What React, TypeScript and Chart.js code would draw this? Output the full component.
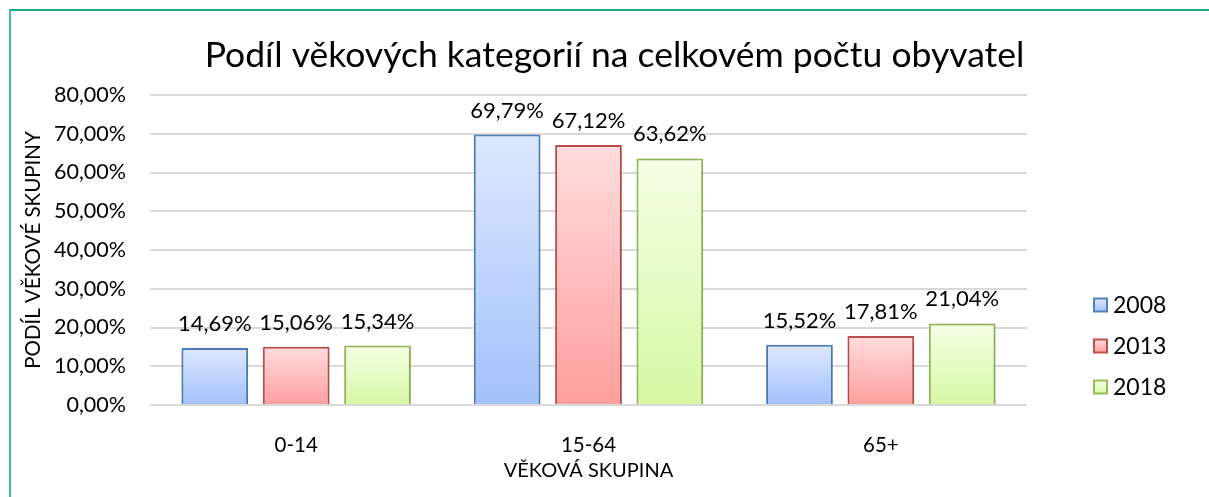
import React, { useEffect, useRef } from "react";
import { Chart, registerables } from "chart.js";

Chart.register(...registerables);

const chartTitle = "Podíl věkových kategorií na celkovém počtu obyvatel";
const categories = ["0-14", "15-64", "65+"];
const seriesNames = ["2008", "2013", "2018"];
const values2008 = [14.69, 69.79, 15.52];
const values2013 = [15.06, 67.12, 17.81];
const values2018 = [15.34, 63.62, 21.04];
const yTicks = [0, 10, 20, 30, 40, 50, 60, 70, 80];

const FONT = "Lato, 'Open Sans', sans-serif";

const palettes = [
  { top: "#dde8fe", bottom: "#a3c1fa", border: "#4f81bd" },
  { top: "#ffdddd", bottom: "#ff9e9e", border: "#c0504d" },
  { top: "#f4ffe4", bottom: "#d6f8a4", border: "#9bbb59" },
];

const fmt = (v: number) => v.toFixed(2).replace(".", ",") + "%";

function gradientFill(idx: number) {
  return (ctx: any) => {
    const chart = ctx.chart;
    const y = chart.scales?.y;
    if (!y || ctx.raw == null) return palettes[idx].bottom;
    const top = y.getPixelForValue(ctx.raw);
    const bottom = y.getPixelForValue(0);
    if (!isFinite(top) || !isFinite(bottom) || top === bottom) return palettes[idx].bottom;
    const g = chart.ctx.createLinearGradient(0, top, 0, bottom);
    g.addColorStop(0, palettes[idx].top);
    g.addColorStop(1, palettes[idx].bottom);
    return g;
  };
}

const shadowPlugin = {
  id: "barShadow",
  beforeDatasetsDraw(chart: any) {
    const c = chart.ctx;
    c.save();
    c.shadowColor = "rgba(0,0,0,0.18)";
    c.shadowBlur = 6;
    c.shadowOffsetX = 1;
    c.shadowOffsetY = 1;
  },
  afterDatasetsDraw(chart: any) {
    chart.ctx.restore();
  },
};

const labelPlugin = {
  id: "valueLabels",
  afterDatasetsDraw(chart: any) {
    const c = chart.ctx;
    c.save();
    c.font = `22px ${FONT}`;
    c.fillStyle = "#000";
    c.textAlign = "center";
    c.textBaseline = "alphabetic";
    chart.data.datasets.forEach((ds: any, di: number) => {
      const meta = chart.getDatasetMeta(di);
      meta.data.forEach((bar: any, i: number) => {
        c.fillText(fmt(ds.data[i]), bar.x, bar.y - 17);
      });
    });
    c.restore();
  },
};

const titlePlugin = {
  id: "centeredTitle",
  afterDraw(chart: any) {
    const c = chart.ctx;
    c.save();
    c.font = `35.5px ${FONT}`;
    c.fillStyle = "#000";
    c.textAlign = "center";
    c.textBaseline = "alphabetic";
    c.fillText(chartTitle, chart.width / 2 + 10, 67);
    c.restore();
  },
};

const legendPlugin = {
  id: "sideLegend",
  afterDraw(chart: any) {
    const c = chart.ctx;
    const area = chart.chartArea;
    const n = chart.data.datasets.length;
    c.save();
    c.font = `23px ${FONT}`;
    c.textBaseline = "middle";
    c.textAlign = "left";
    chart.data.datasets.forEach((ds: any, i: number) => {
      const cy = area.bottom - 18 - (n - 1 - i) * 41;
      const bx = area.right + 67;
      const size = 13;
      const g = c.createLinearGradient(0, cy - size / 2, 0, cy + size / 2);
      g.addColorStop(0, palettes[i].top);
      g.addColorStop(1, palettes[i].bottom);
      c.fillStyle = g;
      c.fillRect(bx, cy - size / 2, size, size);
      c.strokeStyle = palettes[i].border;
      c.lineWidth = 2;
      c.strokeRect(bx, cy - size / 2, size, size);
      c.fillStyle = "#000";
      c.fillText(ds.label, bx + size + 6, cy + 1);
    });
    c.restore();
  },
};

export default function App() {
  const ref = useRef<HTMLCanvasElement | null>(null);

  useEffect(() => {
    if (!ref.current) return;
    const allValues = [values2008, values2013, values2018];
    const chart = new Chart(ref.current, {
      type: "bar",
      data: {
        labels: categories,
        datasets: seriesNames.map((name, i) => ({
          label: name,
          data: allValues[i],
          backgroundColor: gradientFill(i),
          borderColor: palettes[i].border,
          borderWidth: 2,
          borderSkipped: "start",
          categoryPercentage: 0.835,
          barPercentage: 0.82,
        })),
      },
      options: {
        animation: false,
        responsive: true,
        maintainAspectRatio: false,
        layout: { padding: { left: 0, right: 182, top: 95, bottom: 0 } },
        plugins: {
          legend: { display: false },
          tooltip: { enabled: false },
          title: { display: false },
        },
        scales: {
          x: {
            grid: { display: false },
            border: { display: false },
            ticks: {
              color: "#000",
              font: { family: FONT, size: 20.5 },
              padding: 20,
            },
            title: {
              display: true,
              text: "VĚKOVÁ SKUPINA",
              color: "#000",
              font: { family: FONT, size: 20 },
              padding: { top: 0, bottom: 14 },
            },
            afterFit: (scale: any) => {
              scale.height = 92;
            },
          },
          y: {
            min: 0,
            max: 80,
            afterBuildTicks: (scale: any) => {
              scale.ticks = yTicks.map((v) => ({ value: v }));
            },
            grid: { color: "#d9d9d9", lineWidth: 2, drawTicks: false },
            border: { display: false },
            ticks: {
              color: "#000",
              font: { family: FONT, size: 21.5 },
              padding: 24,
              callback: (v: any) => fmt(Number(v)),
            },
            title: {
              display: true,
              text: "PODÍL VĚKOVÉ SKUPINY",
              color: "#000",
              font: { family: FONT, size: 20.5 },
              padding: { top: 21, bottom: 0 },
            },
            afterFit: (scale: any) => {
              scale.width = 150;
            },
          },
        },
      },
      plugins: [shadowPlugin, labelPlugin, titlePlugin, legendPlugin],
    });
    return () => chart.destroy();
  }, []);

  return (
    <div
      style={{
        position: "fixed",
        left: 0,
        top: 0,
        width: 1209,
        height: 497,
        background: "#fff",
        overflow: "hidden",
      }}
    >
      <canvas ref={ref} />
      <div
        style={{
          position: "absolute",
          left: 9,
          top: 9,
          width: 1400,
          height: 700,
          borderTop: "2px solid #1ea587",
          borderLeft: "2px solid #45bb9f",
          pointerEvents: "none",
        }}
      />
    </div>
  );
}
